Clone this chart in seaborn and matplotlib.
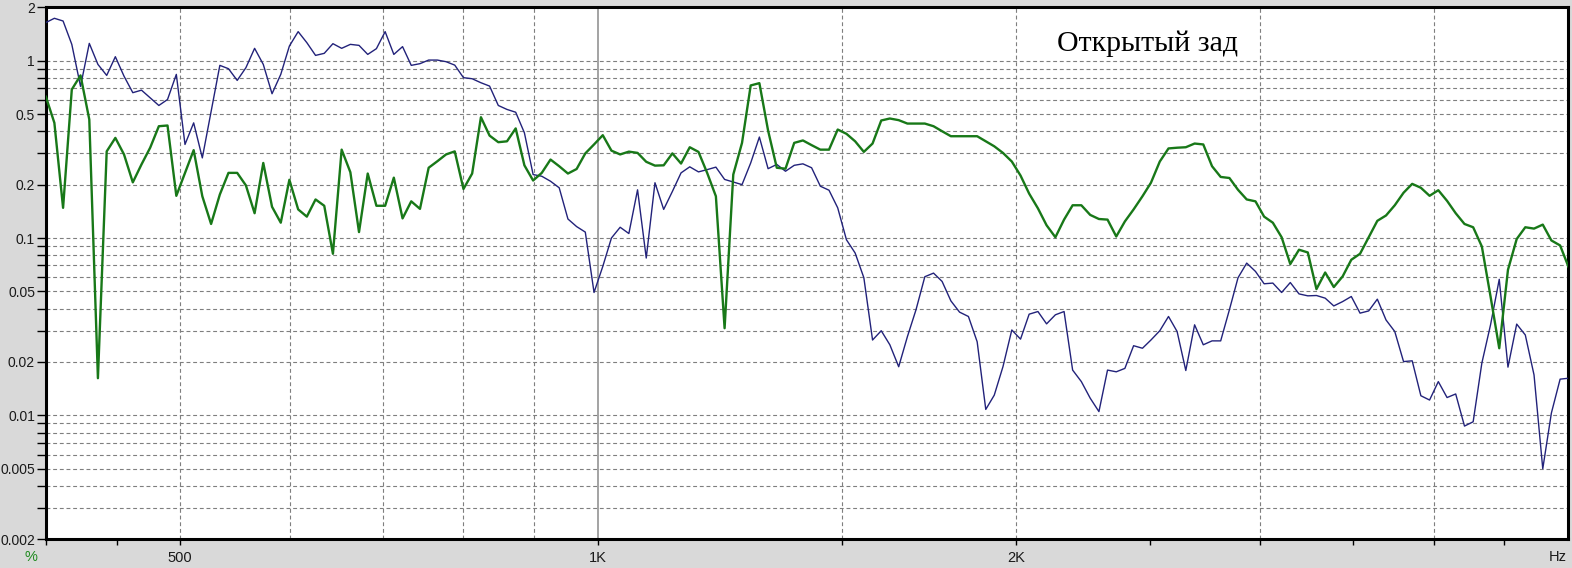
import matplotlib
matplotlib.use("Agg")
import matplotlib.pyplot as plt
import seaborn as sns
import pandas as pd
from matplotlib.ticker import FixedLocator, FixedFormatter, NullLocator

# ---------------- data ----------------
freq_hz = [
    400, 405.8, 411.7, 417.7, 423.8, 430.0, 436.2, 442.6, 449.0, 455.5, 462.2, 468.9,
    475.7, 482.6, 489.6, 496.8, 504.0, 511.3, 518.7, 526.3, 534.0, 541.7, 549.6, 557.6,
    565.7, 573.9, 582.3, 590.8, 599.3, 608.1, 616.9, 625.9, 635.0, 644.2, 653.6, 663.1,
    672.7, 682.5, 692.4, 702.5, 712.7, 723.1, 733.6, 744.3, 755.1, 766.1, 777.2, 788.5,
    800, 811.6, 823.5, 835.4, 847.6, 859.9, 872.4, 885.1, 898.0, 911.0, 924.3, 937.7,
    951.4, 965.2, 979.2, 993.5, 1008, 1022.6, 1037.5, 1052.6, 1067.9, 1083.4, 1099.2, 1115.2,
    1131.4, 1147.8, 1164.5, 1181.5, 1198.6, 1216.1, 1233.8, 1251.7, 1270, 1288.4, 1307.1, 1326.1,
    1345.4, 1365, 1384.9, 1405, 1425.4, 1446.2, 1467.2, 1488.5, 1510.2, 1532.2, 1554.5, 1577.1,
    1600, 1623, 1647, 1671, 1695, 1720, 1745, 1770, 1796, 1822, 1849, 1876,
    1903, 1930, 1958, 1987, 2016, 2045, 2075, 2105, 2136, 2167, 2198, 2230,
    2263, 2296, 2329, 2363, 2397, 2432, 2468, 2503, 2540, 2577, 2614, 2652,
    2691, 2730, 2770, 2810, 2851, 2892, 2934, 2977, 3020, 3064, 3109, 3154,
    3200, 3247, 3294, 3342, 3390, 3440, 3490, 3541, 3592, 3644, 3697, 3751,
    3806, 3861, 3917, 3974, 4032, 4091, 4150, 4211, 4272, 4334, 4397, 4461,
    4526, 4592, 4658, 4726, 4795, 4864, 4935, 5007,
]

blue_pct = [
    1.639, 1.734, 1.674, 1.236, 0.716, 1.252, 0.953, 0.826, 1.053, 0.818,
    0.660, 0.682, 0.618, 0.559, 0.604, 0.837, 0.337, 0.446, 0.283, 0.517,
    0.941, 0.901, 0.774, 0.913, 1.174, 0.953, 0.651, 0.837, 1.209, 1.458,
    1.264, 1.071, 1.100, 1.247, 1.174, 1.236, 1.220, 1.085, 1.169, 1.458,
    1.085, 1.200, 0.941, 0.962, 1.008, 1.008, 0.987, 0.944, 0.802, 0.791,
    0.751, 0.719, 0.559, 0.531, 0.512, 0.392, 0.228, 0.223, 0.209, 0.192,
    0.128, 0.116, 0.108, 0.0493, 0.0691, 0.100, 0.115, 0.106, 0.187, 0.0771,
    0.205, 0.145, 0.183, 0.233, 0.252, 0.236, 0.243, 0.251, 0.214, 0.207,
    0.200, 0.265, 0.371, 0.246, 0.260, 0.238, 0.257, 0.262, 0.249, 0.196,
    0.186, 0.148, 0.0978, 0.0823, 0.0597, 0.0266, 0.0300, 0.0250, 0.0188, 0.0278,
    0.0394, 0.0605, 0.0634, 0.0569, 0.0442, 0.0382, 0.0361, 0.0260, 0.0108, 0.0130,
    0.0188, 0.0303, 0.0269, 0.0372, 0.0385, 0.0328, 0.0369, 0.0385, 0.0180, 0.0155,
    0.0125, 0.0105, 0.0180, 0.0176, 0.0184, 0.0247, 0.0239, 0.0266, 0.0300, 0.0361,
    0.0297, 0.0179, 0.0324, 0.0250, 0.0263, 0.0263, 0.0394, 0.0597, 0.0722, 0.0648,
    0.0552, 0.0557, 0.0493, 0.0561, 0.0484, 0.0472, 0.0474, 0.0458, 0.0414, 0.0438,
    0.0468, 0.0377, 0.0388, 0.0452, 0.0345, 0.0297, 0.0201, 0.0203, 0.0129, 0.0122,
    0.0155, 0.0126, 0.0132, 0.0087, 0.0092, 0.0197, 0.0324, 0.0585, 0.0187, 0.0327,
    0.0284, 0.0169, 0.0050, 0.0103, 0.0160, 0.0162,
]

green_pct = [
    0.631, 0.446, 0.148, 0.688, 0.826, 0.466, 0.0162, 0.308, 0.367, 0.296,
    0.206, 0.260, 0.323, 0.427, 0.431, 0.173, 0.233, 0.313, 0.172, 0.120,
    0.176, 0.233, 0.233, 0.198, 0.138, 0.265, 0.150, 0.122, 0.213, 0.145,
    0.132, 0.165, 0.152, 0.0815, 0.315, 0.235, 0.108, 0.231, 0.152, 0.152,
    0.219, 0.129, 0.161, 0.146, 0.249, 0.271, 0.296, 0.308, 0.189, 0.231,
    0.480, 0.378, 0.347, 0.351, 0.415, 0.257, 0.211, 0.233, 0.277, 0.254,
    0.231, 0.245, 0.300, 0.337, 0.380, 0.311, 0.296, 0.307, 0.302, 0.269,
    0.256, 0.257, 0.300, 0.263, 0.325, 0.306, 0.233, 0.172, 0.0310, 0.228,
    0.344, 0.725, 0.747, 0.404, 0.249, 0.246, 0.344, 0.355, 0.334, 0.315,
    0.315, 0.409, 0.387, 0.351, 0.306, 0.341, 0.460, 0.472, 0.462, 0.442,
    0.442, 0.442, 0.427, 0.400, 0.375, 0.375, 0.375, 0.375, 0.351, 0.329,
    0.302, 0.270, 0.225, 0.178, 0.147, 0.118, 0.101, 0.127, 0.153, 0.153,
    0.135, 0.128, 0.127, 0.102, 0.124, 0.145, 0.172, 0.205, 0.270, 0.320,
    0.323, 0.325, 0.341, 0.337, 0.254, 0.221, 0.218, 0.187, 0.165, 0.161,
    0.132, 0.122, 0.101, 0.0713, 0.0859, 0.0829, 0.0515, 0.0639, 0.0529, 0.0607,
    0.0754, 0.0815, 0.101, 0.125, 0.134, 0.153, 0.180, 0.202, 0.192, 0.173,
    0.186, 0.162, 0.138, 0.120, 0.115, 0.0896, 0.0468, 0.0239, 0.0662, 0.0987,
    0.115, 0.113, 0.119, 0.0969, 0.0908, 0.0680,
]

y_grid_values = [2, 1, 0.9, 0.8, 0.7, 0.6, 0.5, 0.4, 0.3, 0.2,
                 0.1, 0.09, 0.08, 0.07, 0.06, 0.05, 0.04, 0.03, 0.02,
                 0.01, 0.009, 0.008, 0.007, 0.006, 0.005, 0.004, 0.003, 0.002]
y_label_map = {2: "2", 1: "1", 0.5: "0.5", 0.2: "0.2", 0.1: "0.1", 0.05: "0.05",
               0.02: "0.02", 0.01: "0.01", 0.005: "0.005", 0.002: "0.002"}
x_tick_values = [400, 450, 500, 1000, 1500, 2000, 2500, 3000, 3500, 4000, 4500]
x_label_map = {500: "500", 1000: "1K", 2000: "2K"}
x_grid_dashed = [500, 600, 700, 800, 900, 1500, 2000, 3000, 4000]
x_grid_solid = [1000]
title_text = "Открытый зад"
unit_x = "Hz"
unit_y = "%"

# ---------------- style ----------------
sns.set_style("white")
plt.rcParams["font.family"] = ["Liberation Sans", "DejaVu Sans"]

BG = "#d9d9d9"
GRID = "#7f7f7f"
BLUE = "#22227a"
GREEN = "#187818"

fig = plt.figure(figsize=(15.72, 5.68), dpi=100, facecolor=BG)
ax = fig.add_axes([45.7 / 1572, 1 - 539.3 / 568, (1568 - 45.7) / 1572, 532 / 568])
ax.set_facecolor("white")

df = pd.DataFrame({"f": freq_hz, "blue": blue_pct, "green": green_pct})

ax.set_xscale("log")
ax.set_yscale("log")

# grid
for g in x_grid_dashed:
    ax.axvline(g, color=GRID, lw=0.8, ls=(0, (3.5, 2.5)), zorder=1)
for g in x_grid_solid:
    ax.axvline(g, color="#8a8a8a", lw=1.1, ls="-", zorder=1)
for g in y_grid_values[1:-1]:
    ax.axhline(g, color=GRID, lw=0.8, ls=(0, (3.5, 2.5)), zorder=1)

sns.lineplot(data=df, x="f", y="blue", ax=ax, color=BLUE, lw=1.0,
             estimator=None, sort=False, zorder=3)
sns.lineplot(data=df, x="f", y="green", ax=ax, color=GREEN, lw=1.7,
             estimator=None, sort=False, zorder=4)

ax.set_xlim(400, 5000)
ax.set_ylim(0.002, 2)
ax.set_xlabel("")
ax.set_ylabel("")

# ticks
ax.yaxis.set_major_locator(FixedLocator(y_grid_values))
ax.yaxis.set_major_formatter(FixedFormatter([y_label_map.get(v, "") for v in y_grid_values]))
ax.yaxis.set_minor_locator(NullLocator())
ax.xaxis.set_major_locator(FixedLocator(x_tick_values))
ax.xaxis.set_major_formatter(FixedFormatter([x_label_map.get(v, "") for v in x_tick_values]))
ax.xaxis.set_minor_locator(NullLocator())

ax.tick_params(axis="y", which="major", direction="out", length=6.5, width=1.0,
               color="black", pad=1.2, labelsize=10, labelcolor="#1a1a1a", left=True)
ax.tick_params(axis="x", which="major", direction="out", length=4, width=1.0,
               color="black", pad=4.5, labelsize=10.5, labelcolor="#1a1a1a", bottom=True)

for s in ax.spines.values():
    s.set_visible(True)
    s.set_color("black")
    s.set_linewidth(2.2)

ax.text((1057 - 45.7) / (1568 - 45.7), 1 - (51 - 7.3) / 532, title_text,
        transform=ax.transAxes, ha="left", va="baseline",
        fontsize=21.5, family=["Liberation Serif", "DejaVu Serif"], color="black")

fig.text(31 / 1572, 1 - 557 / 568, unit_y, ha="center", va="center",
         fontsize=10.5, color="#1e8a1e")
fig.text(1567 / 1572, 1 - 557 / 568, unit_x, ha="right", va="center",
         fontsize=10.5, color="#1a1a1a")

fig.savefig("out.png", dpi=100, facecolor=BG)
